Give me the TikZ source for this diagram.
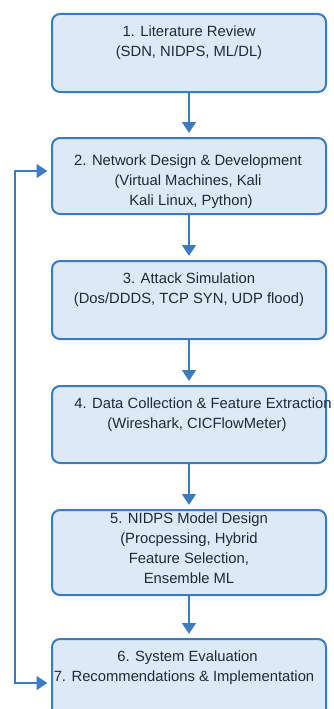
\documentclass[tikz,border=0pt]{standalone}
\usepackage{fontspec}
\setmainfont{Liberation Sans}
\usetikzlibrary{arrows.meta}
\definecolor{stepblue}{HTML}{3B7BC0}
\definecolor{stepfill}{HTML}{DCE9F6}
\definecolor{steptext}{HTML}{1E2A3A}
\begin{document}
\begin{tikzpicture}[x=1pt,y=-1pt,
  stagebox/.style={draw=stepblue, line width=2pt, fill=stepfill, rounded corners=8pt,
    minimum width=274pt, inner sep=0pt},
  stagetext/.style={align=center, inner sep=0pt, text=steptext,
    font=\fontsize{14.8}{20}\selectfont},
  flow/.style={draw=stepblue, line width=2.8pt,
    -{Triangle[width=13.5pt,length=11pt]}, shorten >=4pt},
  loopflow/.style={draw=stepblue, line width=2.8pt,
    {Triangle[width=13.5pt,length=11pt]}-{Triangle[width=13.5pt,length=11pt]},
    shorten >=3.5pt, shorten <=3.5pt}]
\useasboundingbox (0,0) rectangle (334,709);

% process stages
\node[stagebox, minimum height=78pt] (b1) at (189,53) {};
\node[stagebox, minimum height=76pt] (b2) at (189,176) {};
\node[stagebox, minimum height=78pt] (b3) at (189,300) {};
\node[stagebox, minimum height=77pt] (b4) at (189,424.5) {};
\node[stagebox, minimum height=85pt] (b5) at (189,552.5) {};
\node[stagebox, minimum height=86pt] (b6) at (189,682) {};

% stage labels
\node[stagetext] (t1) at (189,42.5) {1. Literature Review\\(SDN, NIDPS, ML/DL)};
\node[stagetext] (t2) at (188,181.5) {2. Network Design \& Development\\(Virtual Machines, Kali\\\hspace*{6pt}Kali Linux, Python)};
\node[stagetext] (t3) at (189,290) {3. Attack Simulation\\(Dos/DDDS, TCP SYN, UDP flood)};
\node[stagetext] (t4) at (197,414.5) {\hspace*{12pt}4. Data Collection \& Feature Extraction\\(Wireshark, CICFlowMeter)};
\node[stagetext] (t5) at (189,548) {5. NIDPS Model Design\\(Procpessing, Hybrid\\Feature Selection,\\Ensemble ML};
\node[stagetext] (t6) at (184,668) {\hspace*{7pt}6. System Evaluation\\7. Recommendations \& Implementation};

% forward flow between stages
\draw[flow] (b1) -- (b2);
\draw[flow] (b2) -- (b3);
\draw[flow] (b3) -- (b4);
\draw[flow] (b4) -- (b5);
\draw[flow] (b5) -- (b6);

% feedback loop on the left
\coordinate (in2) at ([yshift=5pt]b2.west);
\coordinate (in6) at ([yshift=-1pt]b6.west);
\coordinate (rail) at (15,0);
\draw[loopflow] (in2) -- (in2 -| rail) -- (in6 -| rail) -- (in6);
\end{tikzpicture}
\end{document}
